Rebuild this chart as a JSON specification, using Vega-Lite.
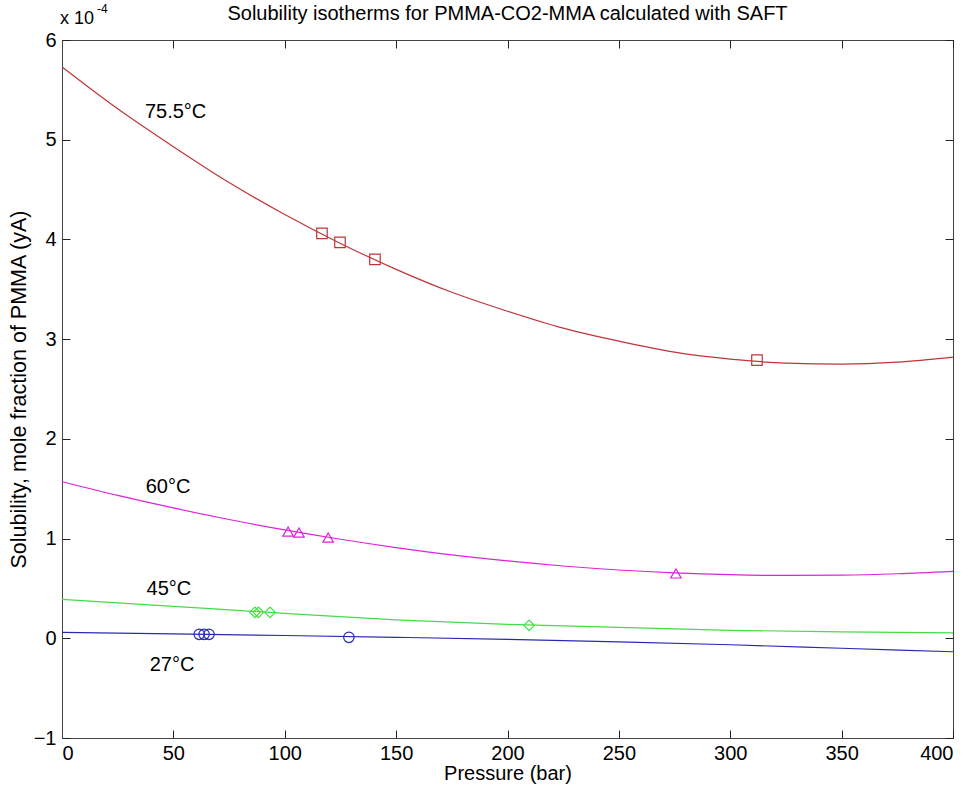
{
  "$schema": "https://vega.github.io/schema/vega-lite/v6.json",
  "width": 891,
  "height": 698,
  "autosize": "none",
  "padding": {"left": 62, "top": 40, "right": 20, "bottom": 54},
  "background": "white",
  "title": {"text": "Solubility isotherms for PMMA-CO2-MMA calculated with SAFT", "font": "Liberation Sans", "fontSize": 20, "fontWeight": "normal", "color": "#000", "offset": -21, "anchor": "middle"},
  "config": {
    "view": {"stroke": "#444", "strokeWidth": 1},
    "axis": {"grid": false, "domainColor": "#444", "tickColor": "#222", "tickSize": -8, "labelFont": "Liberation Sans", "labelFontSize": 20, "labelColor": "#000", "titleFont": "Liberation Sans", "titleFontSize": 20, "titleFontWeight": "normal", "titleColor": "#000"}
  },
  "datasets": {
    "curves": [
      {"series": "75.5", "P": 0, "S": 5.73}, {"series": "75.5", "P": 25, "S": 5.31}, {"series": "75.5", "P": 50, "S": 4.93}, {"series": "75.5", "P": 75, "S": 4.57}, {"series": "75.5", "P": 100, "S": 4.25}, {"series": "75.5", "P": 125, "S": 3.96}, {"series": "75.5", "P": 150, "S": 3.70}, {"series": "75.5", "P": 175, "S": 3.47}, {"series": "75.5", "P": 200, "S": 3.28}, {"series": "75.5", "P": 225, "S": 3.11}, {"series": "75.5", "P": 250, "S": 2.98}, {"series": "75.5", "P": 275, "S": 2.87}, {"series": "75.5", "P": 300, "S": 2.80}, {"series": "75.5", "P": 325, "S": 2.76}, {"series": "75.5", "P": 350, "S": 2.75}, {"series": "75.5", "P": 375, "S": 2.77}, {"series": "75.5", "P": 400, "S": 2.82},
      {"series": "60", "P": 0, "S": 1.57}, {"series": "60", "P": 25, "S": 1.433}, {"series": "60", "P": 50, "S": 1.307}, {"series": "60", "P": 75, "S": 1.191}, {"series": "60", "P": 100, "S": 1.087}, {"series": "60", "P": 125, "S": 0.993}, {"series": "60", "P": 150, "S": 0.910}, {"series": "60", "P": 175, "S": 0.837}, {"series": "60", "P": 200, "S": 0.776}, {"series": "60", "P": 225, "S": 0.725}, {"series": "60", "P": 250, "S": 0.685}, {"series": "60", "P": 275, "S": 0.656}, {"series": "60", "P": 300, "S": 0.638}, {"series": "60", "P": 325, "S": 0.630}, {"series": "60", "P": 350, "S": 0.633}, {"series": "60", "P": 375, "S": 0.647}, {"series": "60", "P": 400, "S": 0.672},
      {"series": "45", "P": 0, "S": 0.39}, {"series": "45", "P": 50, "S": 0.32}, {"series": "45", "P": 100, "S": 0.25}, {"series": "45", "P": 150, "S": 0.185}, {"series": "45", "P": 200, "S": 0.14}, {"series": "45", "P": 250, "S": 0.11}, {"series": "45", "P": 300, "S": 0.08}, {"series": "45", "P": 350, "S": 0.065}, {"series": "45", "P": 400, "S": 0.055},
      {"series": "27", "P": 0, "S": 0.06}, {"series": "27", "P": 50, "S": 0.045}, {"series": "27", "P": 100, "S": 0.028}, {"series": "27", "P": 150, "S": 0.01}, {"series": "27", "P": 200, "S": -0.01}, {"series": "27", "P": 250, "S": -0.035}, {"series": "27", "P": 300, "S": -0.065}, {"series": "27", "P": 350, "S": -0.10}, {"series": "27", "P": 400, "S": -0.135}
    ],
    "points": [
      {"series": "75.5", "P": 116.7, "S": 4.06}, {"series": "75.5", "P": 124.8, "S": 3.97}, {"series": "75.5", "P": 140.5, "S": 3.80}, {"series": "75.5", "P": 312, "S": 2.79},
      {"series": "60", "P": 101.5, "S": 1.07}, {"series": "60", "P": 106.4, "S": 1.06}, {"series": "60", "P": 119.5, "S": 1.01}, {"series": "60", "P": 275.6, "S": 0.65},
      {"series": "45", "P": 86.6, "S": 0.26}, {"series": "45", "P": 88.2, "S": 0.26}, {"series": "45", "P": 93.4, "S": 0.26}, {"series": "45", "P": 209.7, "S": 0.13},
      {"series": "27", "P": 61.6, "S": 0.04}, {"series": "27", "P": 63.8, "S": 0.04}, {"series": "27", "P": 66.0, "S": 0.04}, {"series": "27", "P": 128.8, "S": 0.01}
    ],
    "labels": [
      {"label": "75.5°C", "P": 51, "S": 5.28},
      {"label": "60°C", "P": 47.6, "S": 1.52},
      {"label": "45°C", "P": 48, "S": 0.49},
      {"label": "27°C", "P": 49.4, "S": -0.27}
    ],
    "exp": [{"P": 0, "S": 6}]
  },
  "layer": [
    {
      "data": {"name": "curves"},
      "mark": {"type": "line", "strokeWidth": 1.2, "interpolate": "monotone"},
      "encoding": {
        "x": {"field": "P", "type": "quantitative", "scale": {"domain": [0, 400], "nice": false}, "axis": {"orient": "bottom", "values": [0, 50, 100, 150, 200, 250, 300, 350, 400], "title": "Pressure (bar)", "labelPadding": 13, "titlePadding": 0}},
        "y": {"field": "S", "type": "quantitative", "scale": {"domain": [-1, 6], "nice": false, "zero": false}, "axis": {"orient": "left", "values": [-1, 0, 1, 2, 3, 4, 5, 6], "title": "Solubility, mole fraction of PMMA (yA)", "titleFontSize": 21.5, "labelPadding": 14, "titlePadding": 3}},
        "color": {"field": "series", "type": "nominal", "scale": {"domain": ["75.5", "60", "45", "27"], "range": ["#c03538", "#dd22dd", "#44dd44", "#2a2ab0"]}, "legend": null},
        "detail": {"field": "series"}
      }
    },
    {
      "data": {"name": "points"},
      "mark": {"type": "point", "filled": false, "strokeWidth": 1.2, "opacity": 1},
      "encoding": {
        "x": {"field": "P", "type": "quantitative", "axis": {"orient": "top", "values": [0, 50, 100, 150, 200, 250, 300, 350, 400], "labels": false, "title": null, "domain": false}},
        "y": {"field": "S", "type": "quantitative", "axis": {"orient": "right", "values": [-1, 0, 1, 2, 3, 4, 5, 6], "labels": false, "title": null, "domain": false}},
        "color": {"field": "series", "type": "nominal", "legend": null},
        "shape": {"field": "series", "type": "nominal", "scale": {"domain": ["75.5", "60", "45", "27"], "range": ["square", "triangle-up", "diamond", "circle"]}, "legend": null},
        "size": {"value": 110}
      }
    },
    {
      "data": {"name": "labels"},
      "mark": {"type": "text", "font": "Liberation Sans", "fontSize": 20, "color": "#000", "align": "center", "baseline": "middle"},
      "encoding": {
        "x": {"field": "P", "type": "quantitative", "axis": null},
        "y": {"field": "S", "type": "quantitative", "axis": null},
        "text": {"field": "label"}
      }
    },
    {
      "data": {"name": "exp"},
      "mark": {"type": "text", "font": "Liberation Sans", "fontSize": 18, "color": "#000", "align": "left", "baseline": "alphabetic", "dx": -2, "dy": -16, "text": "x 10"},
      "encoding": {
        "x": {"field": "P", "type": "quantitative", "axis": null},
        "y": {"field": "S", "type": "quantitative", "axis": null}
      }
    },
    {
      "data": {"name": "exp"},
      "mark": {"type": "text", "font": "Liberation Sans", "fontSize": 12, "color": "#000", "align": "left", "baseline": "alphabetic", "dx": 35, "dy": -27, "text": "-4"},
      "encoding": {
        "x": {"field": "P", "type": "quantitative", "axis": null},
        "y": {"field": "S", "type": "quantitative", "axis": null}
      }
    }
  ]
}
